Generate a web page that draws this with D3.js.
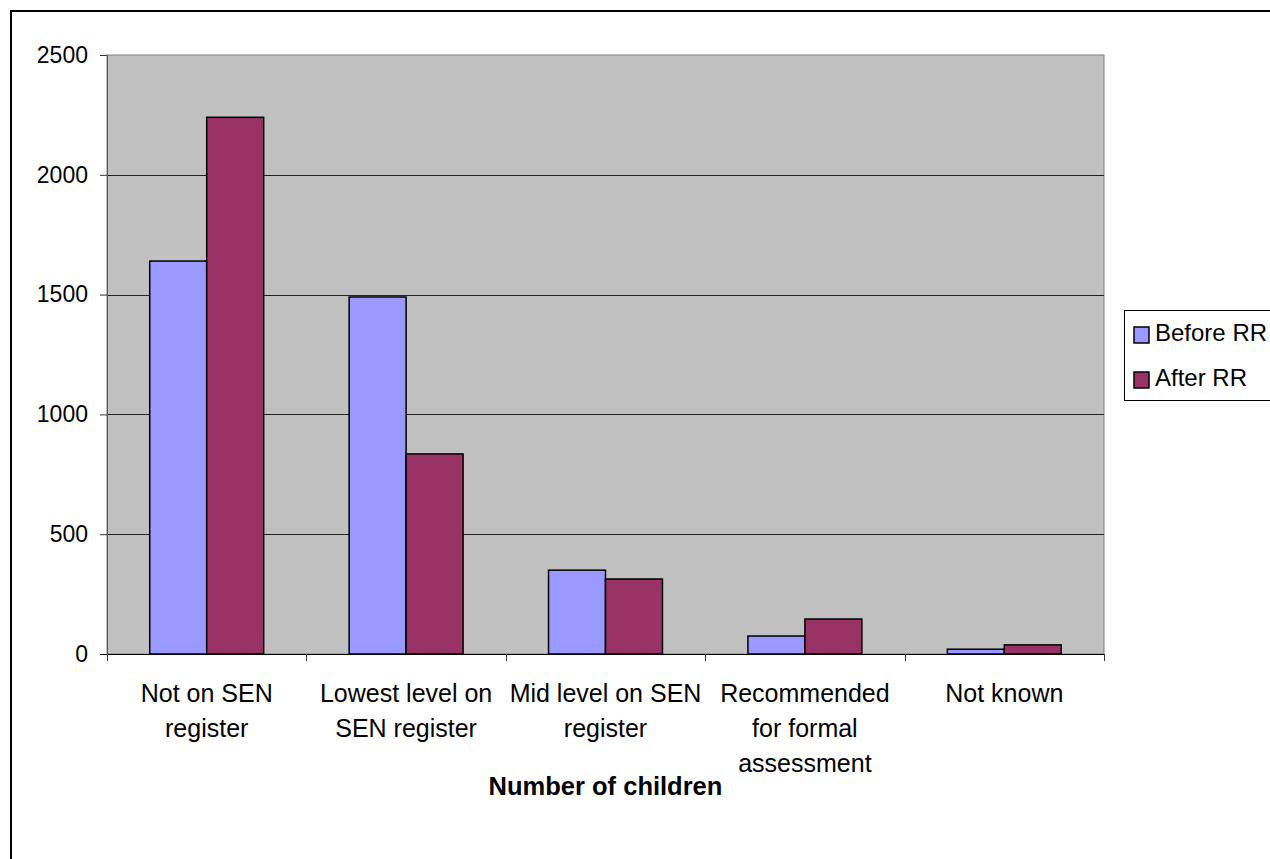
<!DOCTYPE html>
<html>
<head>
<meta charset="utf-8">
<script src="https://cdn.jsdelivr.net/npm/d3@7"></script>
<style>
  body { margin: 0; background: #fff; }
  svg { display: block; font-family: Arial, "Liberation Sans", sans-serif; }
</style>
</head>
<body>
<svg id="chart" width="1270" height="859"></svg>
<script>
const width = 1270;
const height = 859;

// data
const categories = ["Not on SEN register", "Lowest level on SEN register", "Mid level on SEN register", "Recommended for formal assessment", "Not known"];
const categoryLines = [
  ["Not on SEN", "register"],
  ["Lowest level on", "SEN register"],
  ["Mid level on SEN", "register"],
  ["Recommended", "for formal", "assessment"],
  ["Not known"]
];
const seriesNames = ["Before RR", "After RR"];
const beforeRR = [1640, 1490, 350, 75, 20];
const afterRR = [2240, 835, 313, 146, 38];
const yTicks = [0, 500, 1000, 1500, 2000, 2500];
const colors = ["#9999ff", "#993366"];

const svg = d3.select("#chart");
const plot = { left: 107, top: 55, right: 1104, bottom: 654 };

// outer chart border
svg.append("rect")
  .attr("x", 11).attr("y", 11)
  .attr("width", 1270).attr("height", 859)
  .attr("fill", "#fff")
  .attr("stroke", "#000")
  .attr("stroke-width", 2);

const x = d3.scaleBand()
  .domain(categories)
  .range([plot.left, plot.right])
  .paddingInner(0)
  .paddingOuter(0);

const xSeries = d3.scaleBand()
  .domain(seriesNames)
  .range([0, x.bandwidth()])
  .paddingInner(0)
  .paddingOuter(0.75);

const y = d3.scaleLinear()
  .domain([0, 2500])
  .range([plot.bottom, plot.top]);

// plot area
svg.append("rect")
  .attr("x", plot.left).attr("y", plot.top)
  .attr("width", plot.right - plot.left)
  .attr("height", plot.bottom - plot.top)
  .attr("fill", "#c0c0c0")
  .attr("stroke", "#808080")
  .attr("stroke-width", 1);

// gridlines
svg.append("g")
  .selectAll("line")
  .data(yTicks.filter(d => d > 0 && d < 2500))
  .enter()
  .append("line")
  .attr("x1", plot.left).attr("x2", plot.right)
  .attr("y1", d => Math.round(y(d)) + 0.5)
  .attr("y2", d => Math.round(y(d)) + 0.5)
  .attr("stroke", "#222")
  .attr("stroke-width", 1);

// bars
const rows = categories.map((c, i) => ({ cat: c, values: [beforeRR[i], afterRR[i]] }));

svg.append("g")
  .selectAll("g")
  .data(rows)
  .enter()
  .append("g")
  .attr("transform", d => `translate(${x(d.cat)},0)`)
  .selectAll("rect")
  .data(d => d.values.map((v, j) => ({ name: seriesNames[j], value: v, j: j })))
  .enter()
  .append("rect")
  .attr("x", d => xSeries(d.name))
  .attr("y", d => y(d.value))
  .attr("width", xSeries.bandwidth())
  .attr("height", d => y(0) - y(d.value))
  .attr("fill", d => colors[d.j])
  .attr("stroke", "#000")
  .attr("stroke-width", 1.5);

// Y axis
const yAxis = svg.append("g")
  .attr("transform", `translate(${plot.left},0)`)
  .call(d3.axisLeft(y).tickValues(yTicks).tickSize(7).tickPadding(12).tickFormat(d3.format("d")));
yAxis.select(".domain").attr("stroke", "#555");
yAxis.selectAll(".tick line").attr("stroke", "#333");
yAxis.selectAll("text")
  .attr("fill", "#000")
  .style("font-size", "23px")
  .style("font-family", "Arial, 'Liberation Sans', sans-serif");

// X axis
const xAxis = svg.append("g")
  .attr("transform", `translate(0,${plot.bottom})`);
xAxis.append("line")
  .attr("x1", plot.left - 7).attr("x2", plot.right)
  .attr("y1", 0.5).attr("y2", 0.5)
  .attr("stroke", "#000");
xAxis.selectAll("line.tick")
  .data(categories.map(c => x(c)).concat([plot.right]))
  .enter()
  .append("line")
  .attr("class", "tick")
  .attr("x1", d => Math.round(d) + 0.5).attr("x2", d => Math.round(d) + 0.5)
  .attr("y1", 0).attr("y2", 7)
  .attr("stroke", "#333");

// category labels
const labels = svg.append("g")
  .selectAll("text")
  .data(categories)
  .enter()
  .append("text")
  .attr("x", d => x(d) + x.bandwidth() / 2)
  .attr("y", 702)
  .attr("text-anchor", "middle")
  .style("font-size", "25px");
labels.selectAll("tspan")
  .data((d, i) => categoryLines[i])
  .enter()
  .append("tspan")
  .attr("x", function () { return d3.select(this.parentNode).attr("x"); })
  .attr("dy", (d, i) => i === 0 ? 0 : 35)
  .text(d => d);

// axis title
svg.append("text")
  .attr("x", (plot.left + plot.right) / 2)
  .attr("y", 795)
  .attr("text-anchor", "middle")
  .style("font-size", "25.5px")
  .style("font-weight", "bold")
  .text("Number of children");

// legend
const legend = svg.append("g");
legend.append("rect")
  .attr("x", 1124.5).attr("y", 310.5)
  .attr("width", 200).attr("height", 90)
  .attr("fill", "#fff")
  .attr("stroke", "#000")
  .attr("stroke-width", 1);

const items = legend.selectAll("g")
  .data(seriesNames)
  .enter()
  .append("g")
  .attr("transform", (d, i) => `translate(0,${i * 45})`);
items.append("rect")
  .attr("x", 1134).attr("y", 327)
  .attr("width", 15).attr("height", 16)
  .attr("fill", (d, i) => colors[i])
  .attr("stroke", "#000")
  .attr("stroke-width", 1.5);
items.append("text")
  .attr("x", 1155).attr("y", 341)
  .style("font-size", "24px")
  .text(d => d);
</script>
</body>
</html>
